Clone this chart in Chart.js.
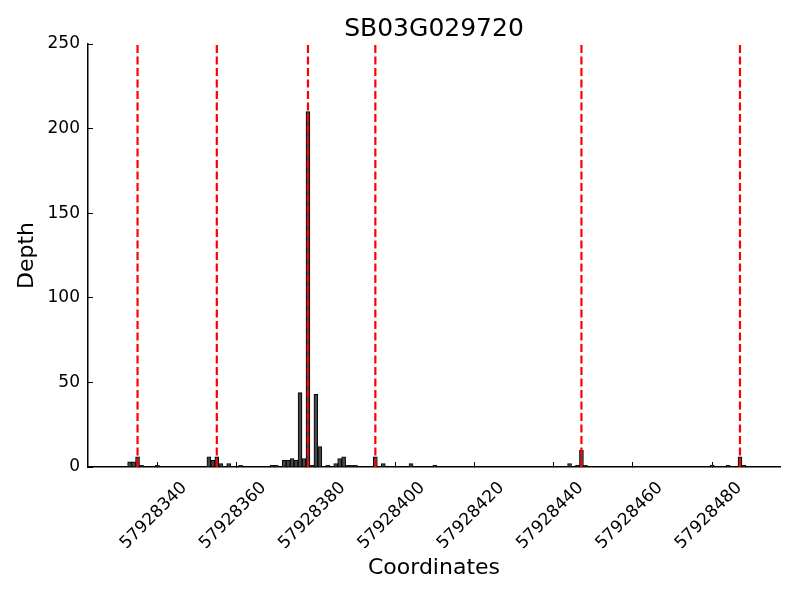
<!DOCTYPE html>
<html><head><meta charset="utf-8">
<script src="https://cdn.jsdelivr.net/npm/chart.js@4"></script>
<style>html,body{margin:0;padding:0;background:#fff}canvas{display:block}</style>
</head><body>
<canvas id="c" width="800" height="600"></canvas>
<script>
const chartTitle = 'SB03G029720';
const xLabel = 'Coordinates';
const yLabel = 'Depth';
const coords = [57928333,57928334,57928335,57928336,57928340,
  57928353,57928354,57928355,57928356,57928358,57928361,
  57928369,57928370,57928372,57928373,57928374,57928375,57928376,57928377,57928378,57928379,57928380,57928381,57928383,57928385,57928386,57928387,57928388,57928389,57928390,
  57928395,57928397,57928404,57928410,
  57928444,57928446,57928447,57928448,
  57928480,57928484,57928487,57928488];
const depth = [3,3,6,1,1,
  6,4,6,2,2,1,
  1,1,4,4,5,4,44,5,210,1,43,12,1,2,5,6,1,1,1,
  6,2,2,1,
  2,1,10,1,
  1,1,6,1];
const markers = [57928335,57928355,57928378,57928395,57928447,57928487];
const xTicks = [57928340,57928360,57928380,57928400,57928420,57928440,57928460,57928480];
const yTicks = [0,50,100,150,200,250];

const FONT = 'DejaVu Sans';
Chart.defaults.font.family = FONT;
Chart.defaults.color = '#000';

const X_MIN = 57928322.5, X_MAX = 57928497.1;

const datasets = markers.map(m => ({
  type: 'line',
  data: [{x: m, y: yTicks[0]}, {x: m, y: yTicks[yTicks.length - 1]}],
  borderColor: '#ff0000', borderWidth: 2.2, borderDash: [8, 3.5],
  pointRadius: 0, fill: false, order: 0
}));
datasets.push({
  type: 'bar',
  data: coords.map((c, i) => ({x: c, y: depth[i]})),
  backgroundColor: '#464646', borderColor: '#000', borderWidth: 1,
  barPercentage: 1, categoryPercentage: 1, order: 1
});

new Chart(document.getElementById('c'), {
  type: 'bar',
  data: {datasets},
  options: {
    responsive: false, animation: false,
    layout: {padding: {left: 0, right: 20, top: 0, bottom: 0}},
    plugins: {legend: {display: false}, tooltip: {enabled: false}, title: {display: false}},
    scales: {
      x: {
        type: 'linear', min: X_MIN, max: X_MAX, offset: false,
        grid: {display: true, offset: false, drawOnChartArea: false, drawTicks: true, tickLength: -5, color: '#000'},
        border: {display: true, color: '#000', width: 1.5},
        ticks: {autoSkip: false, minRotation: 45, maxRotation: 45, labelOffset: 27, padding: 16,
          font: {size: 17}, color: '#000', callback: v => String(v)},
        afterBuildTicks: s => { s.ticks = xTicks.map(v => ({value: v})); },
        afterFit: s => { s.height = 133; },
        title: {display: true, text: xLabel, color: '#000', font: {size: 22}, padding: {top: 0, bottom: 19}}
      },
      xTop: {
        type: 'linear', position: 'top', min: X_MIN, max: X_MAX, offset: false,
        grid: {display: false}, border: {display: false}, ticks: {display: false},
        afterFit: s => { s.height = 44; },
        title: {display: true, text: chartTitle, color: '#000', font: {size: 25}, padding: {top: 14, bottom: 0}}
      },
      y: {
        min: 0, max: 250,
        grid: {display: true, offset: false, drawOnChartArea: false, drawTicks: true, tickLength: -5, color: '#000'},
        border: {display: true, color: '#000', width: 1.5},
        ticks: {padding: 13, font: {size: 17}, color: '#000', callback: v => String(v)},
        afterBuildTicks: s => { s.ticks = yTicks.map(v => ({value: v})); },
        afterFit: s => { s.width = 88; },
        title: {display: true, text: yLabel, color: '#000', font: {size: 22}, padding: {top: 14, bottom: 0}}
      }
    }
  }
});
</script>
</body></html>
